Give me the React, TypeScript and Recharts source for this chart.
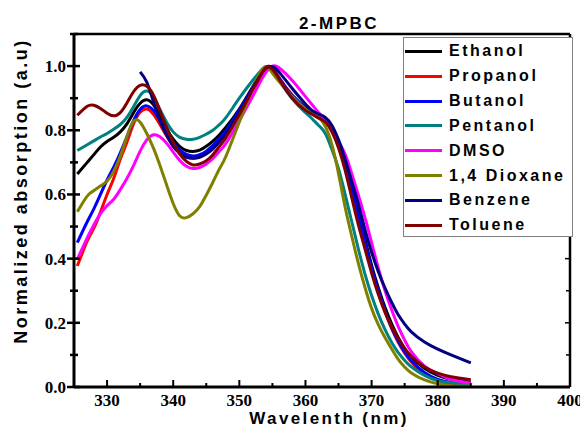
import React from "react";
import { LineChart, Line, XAxis, YAxis, Legend, Label } from "recharts";

// wavelength (nm)
const wavelengths = [
  325.5, 327, 328, 329, 330, 331, 332, 333, 334, 335, 336, 337, 338, 339, 340,
  341, 342, 343, 344, 345, 346, 347, 348, 350, 352, 353, 354, 355, 356, 358, 360,
  361, 362, 363, 364, 365, 366, 367, 368, 369, 370, 371, 372, 373, 374, 375, 376,
  378, 380, 382, 385,
];

const ethanol = [
  0.664, 0.7, 0.724, 0.748, 0.765, 0.778, 0.795, 0.82, 0.855, 0.884, 0.895, 0.88, 0.845, 0.805, 0.772,
  0.749, 0.737, 0.734, 0.738, 0.75, 0.766, 0.786, 0.81, 0.866, 0.935, 0.97, 0.997, 0.99, 0.962, 0.905, 0.87,
  0.855, 0.84, 0.825, 0.805, 0.76, 0.7, 0.625, 0.545, 0.46, 0.38, 0.31, 0.25, 0.198, 0.155, 0.12, 0.094,
  0.058, 0.036, 0.024, 0.015,
];
const propanol = [
  0.377, 0.455, 0.495, 0.545, 0.6, 0.65, 0.71, 0.763, 0.82, 0.856, 0.866, 0.85, 0.818, 0.782, 0.752,
  0.729, 0.717, 0.713, 0.717, 0.728, 0.746, 0.77, 0.795, 0.858, 0.93, 0.965, 0.995, 0.995, 0.965, 0.91, 0.872,
  0.857, 0.842, 0.828, 0.8, 0.752, 0.69, 0.612, 0.53, 0.445, 0.365, 0.295, 0.235, 0.183, 0.14, 0.105, 0.078,
  0.04, 0.02, 0.01, 0.003,
];
const butanol = [
  0.45, 0.515, 0.555, 0.6, 0.645, 0.685, 0.73, 0.78, 0.83, 0.865, 0.876, 0.862, 0.83, 0.793, 0.762,
  0.738, 0.725, 0.72, 0.724, 0.735, 0.753, 0.776, 0.8, 0.862, 0.932, 0.966, 0.996, 0.993, 0.963, 0.908, 0.87,
  0.855, 0.84, 0.826, 0.8, 0.752, 0.692, 0.615, 0.535, 0.45, 0.37, 0.3, 0.24, 0.187, 0.144, 0.109, 0.082,
  0.045, 0.024, 0.014, 0.007,
];
const pentanol = [
  0.737, 0.755, 0.767, 0.779, 0.79, 0.803, 0.818, 0.84, 0.873, 0.908, 0.922, 0.905, 0.865, 0.825, 0.795,
  0.778, 0.772, 0.772, 0.778, 0.788, 0.8, 0.818, 0.84, 0.9, 0.955, 0.98, 0.998, 0.985, 0.955, 0.898, 0.855,
  0.836, 0.815, 0.79, 0.74, 0.68, 0.6, 0.515, 0.43, 0.352, 0.285, 0.228, 0.18, 0.14, 0.108, 0.083, 0.063,
  0.036, 0.02, 0.013, 0.008,
];
const dmso = [
  0.398, 0.465, 0.505, 0.54, 0.565, 0.585, 0.615, 0.65, 0.69, 0.735, 0.77, 0.786, 0.78, 0.76, 0.732,
  0.706, 0.688, 0.681, 0.684, 0.695, 0.712, 0.735, 0.76, 0.83, 0.905, 0.945, 0.98, 1.0, 0.995, 0.955, 0.905,
  0.88, 0.855, 0.83, 0.8, 0.765, 0.725, 0.665, 0.598, 0.528, 0.45, 0.372, 0.302, 0.242, 0.19, 0.146, 0.11,
  0.065, 0.042, 0.024, 0.012,
];
const dioxane = [
  0.546, 0.595, 0.612, 0.626, 0.642, 0.672, 0.72, 0.78, 0.828, 0.825, 0.79, 0.745, 0.69, 0.63, 0.572,
  0.533, 0.528, 0.54, 0.562, 0.598, 0.638, 0.68, 0.72, 0.826, 0.93, 0.975, 0.998, 0.978, 0.952, 0.905, 0.866,
  0.852, 0.84, 0.812, 0.755, 0.665, 0.56, 0.47, 0.385, 0.31, 0.245, 0.195, 0.155, 0.12, 0.087, 0.062, 0.044,
  0.022, 0.01, 0.004, 0.002,
];
const benzene = [
  null, null, null, null, null, null, null, null, null, 0.982, 0.95, 0.89, 0.83, 0.785, 0.75,
  0.728, 0.716, 0.713, 0.716, 0.726, 0.742, 0.764, 0.79, 0.855, 0.93, 0.965, 0.993, 0.998, 0.982, 0.93, 0.882,
  0.862, 0.85, 0.84, 0.815, 0.77, 0.71, 0.64, 0.57, 0.49, 0.42, 0.36, 0.31, 0.265, 0.226, 0.196, 0.172,
  0.14, 0.118, 0.1, 0.075,
];
const toluene = [
  0.847, 0.875, 0.878, 0.868, 0.853, 0.845, 0.855, 0.885, 0.92, 0.94, 0.937, 0.91, 0.86, 0.81, 0.762,
  0.726, 0.703, 0.692, 0.695, 0.705, 0.724, 0.75, 0.778, 0.848, 0.925, 0.962, 0.995, 0.99, 0.96, 0.9, 0.862,
  0.85, 0.838, 0.826, 0.795, 0.745, 0.675, 0.59, 0.505, 0.43, 0.355, 0.29, 0.235, 0.19, 0.152, 0.12, 0.096,
  0.062, 0.043, 0.032, 0.023,
];

const solventNames = ["Ethanol", "Propanol", "Butanol", "Pentanol", "DMSO", "1,4 Dioxane", "Benzene", "Toluene"];
const solventColors = ["#000000", "#ff0000", "#0000ff", "#008080", "#ff00ff", "#808000", "#000080", "#800000"];
const solventValues = [ethanol, propanol, butanol, pentanol, dmso, dioxane, benzene, toluene];

const xTicks = [325, 330, 335, 340, 345, 350, 355, 360, 365, 370, 375, 380, 385, 390, 395, 400];
const yTicks = [0, 0.1, 0.2, 0.3, 0.4, 0.5, 0.6, 0.7, 0.8, 0.9, 1.0, 1.1];

const data = wavelengths.map((w, i) => {
  const row: Record<string, number | null> = { w };
  solventNames.forEach((name, k) => {
    row[name] = solventValues[k][i];
  });
  return row;
});

const sans = "'Liberation Sans', Arial, sans-serif";
const serif = "'Liberation Serif', 'Times New Roman', Times, serif";

const TickLabel = ({ x, y, anchor, children }: any) => (
  <text x={x} y={y} textAnchor={anchor} fontFamily={serif} fontWeight={700} fontSize={17} fill="#000" style={{ fontFamily: serif }}>
    {children}
  </text>
);

const BottomTick = ({ x, y, payload }: any) => {
  const major = payload.value % 10 === 0;
  return (
    <g>
      <line x1={x} x2={x} y1={y} y2={y - (major ? 7 : 4)} stroke="#000" strokeWidth={2} />
      {major && (
        <TickLabel x={x} y={y + 19} anchor="middle">
          {payload.value}
        </TickLabel>
      )}
    </g>
  );
};

const TopTick = ({ x, y, payload }: any) => {
  const major = payload.value % 10 === 0;
  return <line x1={x} x2={x} y1={y} y2={y + (major ? 5 : 4)} stroke="#000" strokeWidth={1.5} />;
};

const LeftTick = ({ x, y, payload }: any) => {
  const major = Math.round(payload.value * 10) % 2 === 0;
  return (
    <g>
      <line x1={x - (major ? 7 : 4)} x2={x + (major ? 6 : 4)} y1={y} y2={y} stroke="#000" strokeWidth={2.5} />
      {major && (
        <TickLabel x={x - 8} y={y + 6} anchor="end">
          {payload.value.toFixed(1)}
        </TickLabel>
      )}
    </g>
  );
};

const RightTick = ({ x, y, payload }: any) => {
  const major = Math.round(payload.value * 10) % 2 === 0;
  return <line x1={x} x2={x - (major ? 5 : 4)} y1={y} y2={y} stroke="#000" strokeWidth={1.5} />;
};

const LegendBox = ({ payload }: any) => {
  const items = [...(payload || [])].sort(
    (a: any, b: any) => solventNames.indexOf(a.value) - solventNames.indexOf(b.value)
  );
  return (
    <div
      style={{
        width: 170,
        height: 200,
        border: "1.5px solid #7f7f7f",
        background: "#fff",
        boxSizing: "border-box",
        paddingTop: 1,
      }}
    >
      {items.map((p: any) => (
        <div key={p.value} style={{ height: 24.85, display: "flex", alignItems: "center" }}>
          <span style={{ display: "inline-block", width: 37, height: 3, background: p.color, marginLeft: 1, marginRight: 7 }} />
          <span style={{ fontFamily: sans, fontWeight: 700, fontSize: 16, letterSpacing: 2.5, color: "#000", lineHeight: "16px" }}>
            {p.value}
          </span>
        </div>
      ))}
    </div>
  );
};

export default function App() {
  return (
    <div style={{ position: "relative", width: 580, height: 420 }}>
      <LineChart width={580} height={420} data={data} margin={{ top: 25, right: 16, bottom: 0, left: 26 }}>
        <XAxis
          xAxisId="b"
          dataKey="w"
          type="number"
          domain={[325, 400]}
          ticks={xTicks}
          interval={0}
          allowDataOverflow
          height={41}
          tickSize={0}
          tickMargin={0}
          tick={(p: any) => <BottomTick {...p} />}
          axisLine={{ stroke: "#000", strokeWidth: 3 }}
          tickLine={false}
        >
          <Label
            content={() => (
              <text x={321} y={416} textAnchor="middle" style={{ fontFamily: sans, fontWeight: 700, fontSize: 17, letterSpacing: 2.4 }}>
                Wavelenth (nm)
              </text>
            )}
          />
        </XAxis>
        <XAxis
          xAxisId="t"
          orientation="top"
          type="number"
          domain={[325, 400]}
          ticks={xTicks}
          interval={0}
          allowDataOverflow
          height={1}
          tickSize={0}
          tickMargin={0}
          tick={(p: any) => <TopTick {...p} />}
          axisLine={{ stroke: "#000", strokeWidth: 2.5 }}
          tickLine={false}
        >
          <Label
            content={() => (
              <text x={331} y={21} textAnchor="middle" style={{ fontFamily: sans, fontWeight: 700, fontSize: 17, letterSpacing: 2.5 }}>
                2-MPBC
              </text>
            )}
          />
        </XAxis>
        <YAxis
          yAxisId="l"
          type="number"
          domain={[0, 1.1]}
          ticks={yTicks}
          interval={0}
          allowDataOverflow
          width={40}
          tickSize={0}
          tickMargin={0}
          tick={(p: any) => <LeftTick {...p} />}
          axisLine={{ stroke: "#000", strokeWidth: 3 }}
          tickLine={false}
        >
          <Label
            content={() => (
              <text
                x={19}
                y={183}
                transform="rotate(-90 19 183)"
                textAnchor="middle"
                style={{ fontFamily: sans, fontWeight: 700, fontSize: 18, letterSpacing: 2.5 }}
              >
                Normalized absorption (a.u)
              </text>
            )}
          />
        </YAxis>
        <YAxis
          yAxisId="r"
          orientation="right"
          type="number"
          domain={[0, 1.1]}
          ticks={yTicks}
          interval={0}
          allowDataOverflow
          width={2}
          tickSize={0}
          tickMargin={0}
          tick={(p: any) => <RightTick {...p} />}
          axisLine={{ stroke: "#000", strokeWidth: 2.5 }}
          tickLine={false}
        />
        {solventNames.map((name, k) => (
          <Line
            key={name}
            xAxisId="b"
            yAxisId="l"
            type="natural"
            dataKey={name}
            stroke={solventColors[k]}
            strokeWidth={3}
            dot={false}
            isAnimationActive={false}
          />
        ))}
        <Legend
          layout="vertical"
          align="center"
          verticalAlign="middle"
          content={<LegendBox />}
          wrapperStyle={{ left: 395, top: 29, width: 170, height: 200 }}
        />
      </LineChart>
    </div>
  );
}
